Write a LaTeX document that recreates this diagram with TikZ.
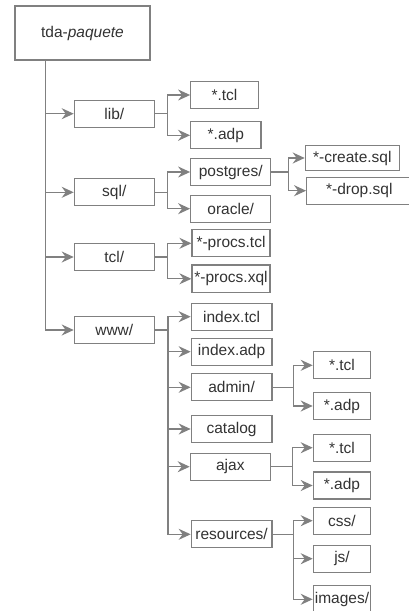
\documentclass[tikz,border=0pt]{standalone}
\usepackage{fontspec}
\setmainfont{Liberation Sans}
\usetikzlibrary{arrows.meta}

\definecolor{linegray}{HTML}{808080}
\definecolor{textgray}{HTML}{333333}

\begin{document}
\begin{tikzpicture}[x=1pt, y=-1pt,
    box/.style={draw=linegray, line width=1.2pt, text=textgray, inner sep=0pt,
      minimum height=27pt, font=\fontsize{15.5}{17}\selectfont},
    line/.style={draw=linegray, line width=1.2pt},
    arr/.style={line, -{Stealth[length=12pt, width=11pt, inset=4pt]}}]
  \path[use as bounding box, fill=white] (0,0) rectangle (409,611);
  % root and first level (x = box centre, y = box centre, in px of the sheet)
  \node[box, minimum width=135pt, minimum height=54pt] (root) at (82.5,33) {tda-\textit{paquete}};
  \node[box, minimum width=80pt] (lib) at (114.3,113.7) {lib/};
  \node[box, minimum width=80pt] (sql) at (114.3,192.3) {sql/};
  \node[box, minimum width=80pt] (tcl) at (114.3,257) {tcl/};
  \node[box, minimum width=80pt] (www) at (114.3,330) {www/};
  % lib/
  \node[box, minimum width=67.6pt, minimum height=26.5pt] (libtcl) at (224.5,95) {*.tcl};
  \node[box, minimum width=70.3pt] (libadp) at (225.8,135.3) {*.adp};
  % sql/
  \node[box, minimum width=80pt] (postgres) at (230.7,172) {postgres/};
  \node[box, minimum width=80pt] (oracle) at (230.7,208.7) {oracle/};
  \node[box, minimum width=94pt, minimum height=25.4pt] (create) at (352.3,158) {*-create.sql};
  \node[box, minimum width=105.3pt] (drop) at (359.3,190.7) {*-drop.sql};
  % tcl/
  \node[box, minimum width=78pt] (procstcl) at (231,243.3) {*-procs.tcl};
  \node[box, minimum width=78pt, minimum height=27.7pt] (procsxql) at (231,278.8) {*-procs.xql};
  % www/
  \node[box, minimum width=80.7pt] (indextcl) at (231.6,316.7) {index.tcl};
  \node[box, minimum width=80.7pt] (indexadp) at (231.6,351.7) {index.adp};
  \node[box, minimum width=80.7pt] (admin) at (231.6,387.3) {admin/};
  \node[box, minimum width=80.7pt] (catalog) at (231.6,429) {catalog};
  \node[box, minimum width=80pt] (ajax) at (230.3,466.7) {ajax};
  \node[box, minimum width=80.7pt] (resources) at (231.6,534.3) {resources/};
  \node[box, minimum width=57.4pt] (admintcl) at (342,365.3) {*.tcl};
  \node[box, minimum width=57.4pt] (adminadp) at (342,406) {*.adp};
  \node[box, minimum width=57.4pt] (ajaxtcl) at (342,447.7) {*.tcl};
  \node[box, minimum width=57.4pt] (ajaxadp) at (342,485.5) {*.adp};
  \node[box, minimum width=57.4pt] (css) at (342,520.7) {css/};
  \node[box, minimum width=57.4pt] (js) at (342,558.7) {js/};
  \node[box, minimum width=57.4pt] (images) at (342,599.3) {images/};

  % trunk
  \coordinate (trunk) at (45.7,60);
  \foreach \child in {lib, sql, tcl, www}
    \draw[arr] (trunk) |- (\child.west);

  % forks
  \draw[line] (lib.east) -- ++(12.7,0) coordinate (libfork);
  \draw[arr] (libfork) |- (libtcl.west);
  \draw[arr] (libfork) |- (libadp.west);

  \draw[line] (sql.east) -- ++(12.7,0) coordinate (sqlfork);
  \draw[arr] (sqlfork) |- (postgres.west);
  \draw[arr] (sqlfork) |- (oracle.west);

  \draw[line] (postgres.east) -- ++(17.5,0) coordinate (pgfork);
  \draw[arr] (pgfork) |- (create.west);
  \draw[arr] (pgfork) |- (drop.west);

  \draw[line] (tcl.east) -- ++(12.5,0) coordinate (tclfork);
  \draw[arr] (tclfork) |- (procstcl.west);
  \draw[arr] (tclfork) |- (procsxql.west);

  \draw[line] (www.east) -- ++(13,0) coordinate (wwwfork);
  \foreach \child in {indextcl, indexadp, admin, catalog, ajax, resources}
    \draw[arr] (wwwfork) |- (\child.west);

  \draw[line] (admin.east) -- ++(21.3,0) coordinate (adminfork);
  \draw[arr] (adminfork) |- (admintcl.west);
  \draw[arr] (adminfork) |- (adminadp.west);

  \draw[line] (ajax.east) -- ++(21.4,0) coordinate (ajaxfork);
  \draw[arr] (ajaxfork) |- (ajaxtcl.west);
  \draw[arr] (ajaxfork) |- (ajaxadp.west);

  \draw[line] (resources.east) -- ++(21.3,0) coordinate (resfork);
  \foreach \child in {css, js, images}
    \draw[arr] (resfork) |- (\child.west);
\end{tikzpicture}
\end{document}
